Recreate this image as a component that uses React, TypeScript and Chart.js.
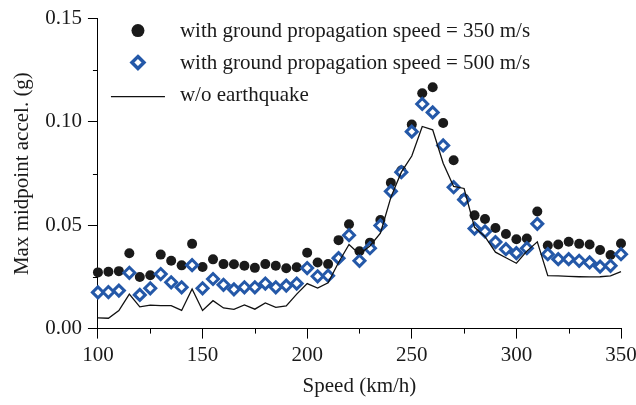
import React, { useEffect, useRef } from "react";
import { Chart, registerables } from "chart.js";

Chart.register(...registerables);

const speeds = [
  100, 105, 110, 115, 120, 125, 130, 135, 140, 145,
  150, 155, 160, 165, 170, 175, 180, 185, 190, 195,
  200, 205, 210, 215, 220, 225, 230, 235, 240, 245,
  250, 255, 260, 265, 270, 275, 280, 285, 290, 295,
  300, 305, 310, 315, 320, 325, 330, 335, 340, 345, 350,
];

const accel350 = [
  0.0272, 0.0275, 0.0278, 0.0365, 0.025, 0.0258, 0.0358, 0.0328, 0.0306, 0.041,
  0.0298, 0.0335, 0.0312, 0.0311, 0.0304, 0.0294, 0.0312, 0.0304, 0.0292, 0.0297,
  0.0367, 0.032, 0.0312, 0.0428, 0.0505, 0.0374, 0.0416, 0.0525, 0.0706, 0.0765,
  0.0987, 0.1139, 0.1168, 0.0995, 0.0815, 0.063, 0.0548, 0.053, 0.0487, 0.0458,
  0.0432, 0.0436, 0.0567, 0.0402, 0.0407, 0.042, 0.041, 0.0407, 0.038, 0.0356, 0.0412,
];

const accel500 = [
  0.0175, 0.0177, 0.0184, 0.027, 0.0163, 0.0195, 0.0264, 0.0224, 0.02, 0.0307,
  0.0195, 0.024, 0.0212, 0.019, 0.02, 0.02, 0.0218, 0.02, 0.0208, 0.0218,
  0.0293, 0.0253, 0.0256, 0.0341, 0.0452, 0.0328, 0.0389, 0.0499, 0.0664, 0.0757,
  0.0953, 0.1087, 0.1046, 0.0886, 0.0684, 0.0624, 0.0484, 0.047, 0.0419, 0.0384,
  0.0365, 0.0389, 0.0507, 0.036, 0.0336, 0.0336, 0.0328, 0.032, 0.03, 0.0304, 0.036,
];

const accelNoEq = [
  0.0052, 0.005, 0.0087, 0.0167, 0.0105, 0.0114, 0.0111, 0.0111, 0.0088, 0.0192,
  0.0088, 0.0135, 0.01, 0.0093, 0.0115, 0.0094, 0.0124, 0.0103, 0.011, 0.0167,
  0.0218, 0.0196, 0.0222, 0.032, 0.0407, 0.036, 0.04, 0.0462, 0.0635, 0.0757,
  0.0835, 0.0978, 0.0962, 0.08, 0.0688, 0.0678, 0.049, 0.0445, 0.037, 0.0343,
  0.0316, 0.0375, 0.042, 0.0256, 0.0255, 0.0253, 0.0251, 0.025, 0.0251, 0.0255, 0.0276,
];

const seriesLabels = [
  "with ground propagation speed = 350 m/s",
  "with ground propagation speed = 500 m/s",
  "w/o earthquake",
];

const xMinorTicks = [125, 175, 225, 275, 325];
const yMinorTicks = [0.025, 0.075, 0.125];

const FONT = "'Liberation Serif', 'Times New Roman', serif";
const TEXT = "#1a1a1a";
const BLUE = "#2458a8";
const DOT = "#1a1a1a";

const toPoints = (ys: number[]) => speeds.map((x, i) => ({ x, y: ys[i] }));

const minorTickPlugin = {
  id: "minorTicks",
  afterDraw(chart: any) {
    const ctx = chart.ctx;
    const xs = chart.scales.x;
    const ys = chart.scales.y;
    ctx.save();
    ctx.strokeStyle = "#000";
    ctx.lineWidth = 1;
    ctx.beginPath();
    xMinorTicks.forEach((v) => {
      const px = Math.round(xs.getPixelForValue(v)) + 0.5;
      ctx.moveTo(px, ys.bottom);
      ctx.lineTo(px, ys.bottom + 5);
    });
    yMinorTicks.forEach((v) => {
      const py = Math.round(ys.getPixelForValue(v)) + 0.5;
      ctx.moveTo(xs.left, py);
      ctx.lineTo(xs.left - 5, py);
    });
    ctx.stroke();
    ctx.restore();
  },
};

const legendPlugin = {
  id: "customLegend",
  afterDraw(chart: any) {
    const ctx = chart.ctx;
    const area = chart.chartArea;
    const x0 = area.left + 40;
    const tx = area.left + 82;
    const rows = [area.top + 13, area.top + 45, area.top + 77];
    ctx.save();
    ctx.font = `21px ${FONT}`;
    ctx.fillStyle = TEXT;
    ctx.textBaseline = "middle";
    ctx.textAlign = "left";
    rows.forEach((y, i) => ctx.fillText(seriesLabels[i], tx, y));
    // circle marker
    ctx.beginPath();
    ctx.arc(x0, rows[0] - 1, 6.5, 0, Math.PI * 2);
    ctx.fillStyle = DOT;
    ctx.fill();
    // diamond marker
    const r = 6;
    const dy = rows[1] - 1;
    ctx.beginPath();
    ctx.moveTo(x0, dy - r);
    ctx.lineTo(x0 + r, dy);
    ctx.lineTo(x0, dy + r);
    ctx.lineTo(x0 - r, dy);
    ctx.closePath();
    ctx.fillStyle = "#fff";
    ctx.fill();
    ctx.lineWidth = 3.5;
    ctx.strokeStyle = BLUE;
    ctx.stroke();
    // line marker
    ctx.beginPath();
    ctx.moveTo(x0 - 27, rows[2] + 1);
    ctx.lineTo(x0 + 27, rows[2] + 1);
    ctx.lineWidth = 1.3;
    ctx.strokeStyle = "#111";
    ctx.stroke();
    ctx.restore();
  },
};

export default function App() {
  const canvasRef = useRef<HTMLCanvasElement | null>(null);

  useEffect(() => {
    if (!canvasRef.current) return;
    const chart = new Chart(canvasRef.current, {
      type: "scatter",
      data: {
        datasets: [
          {
            label: seriesLabels[0],
            data: toPoints(accel350),
            pointStyle: "circle",
            pointRadius: 5,
            pointBackgroundColor: DOT,
            pointBorderWidth: 0,
            showLine: false,
            clip: false,
            order: 3,
          },
          {
            label: seriesLabels[1],
            data: toPoints(accel500),
            pointStyle: "rectRot",
            pointRadius: 5.5,
            pointBackgroundColor: "#fff",
            pointBorderColor: BLUE,
            pointBorderWidth: 3,
            showLine: false,
            clip: false,
            order: 2,
          },
          {
            label: seriesLabels[2],
            data: toPoints(accelNoEq),
            showLine: true,
            borderColor: "#111",
            borderWidth: 1.3,
            pointRadius: 0,
            tension: 0,
            clip: false,
            order: 1,
          },
        ],
      },
      options: {
        animation: false,
        responsive: true,
        maintainAspectRatio: false,
        layout: { padding: { left: 10, top: 3, right: 0, bottom: 6 } },
        plugins: {
          legend: { display: false },
          tooltip: { enabled: false },
        },
        scales: {
          x: {
            type: "linear",
            min: 100,
            max: 350,
            afterFit: (scale: any) => {
              scale.paddingRight = 15;
            },
            ticks: {
              stepSize: 50,
              autoSkip: false,
              maxRotation: 0,
              color: TEXT,
              padding: 4,
              font: { family: FONT, size: 21 },
            },
            grid: {
              drawOnChartArea: false,
              drawTicks: true,
              tickLength: 10,
              tickColor: "#000",
              tickWidth: 1,
            },
            border: { display: true, color: "#000", width: 1 },
            title: {
              display: true,
              text: "Speed (km/h)",
              color: TEXT,
              font: { family: FONT, size: 21 },
              padding: { top: 2, bottom: 0 },
            },
          },
          y: {
            type: "linear",
            min: 0,
            max: 0.15,
            ticks: {
              stepSize: 0.05,
              color: TEXT,
              padding: 6,
              font: { family: FONT, size: 21 },
              callback: (v: any) => Number(v).toFixed(2),
            },
            grid: {
              drawOnChartArea: false,
              drawTicks: true,
              tickLength: 10,
              tickColor: "#000",
              tickWidth: 1,
            },
            border: { display: true, color: "#000", width: 1 },
            title: {
              display: true,
              text: "Max midpoint accel. (g)",
              color: TEXT,
              font: { family: FONT, size: 21 },
              padding: { top: 0, bottom: 4 },
            },
          },
        },
      },
      plugins: [minorTickPlugin, legendPlugin],
    });
    return () => chart.destroy();
  }, []);

  return (
    <div
      style={{
        position: "fixed",
        left: 0,
        top: 0,
        width: 636,
        height: 405,
        background: "#fff",
      }}
    >
      <canvas ref={canvasRef} />
    </div>
  );
}
